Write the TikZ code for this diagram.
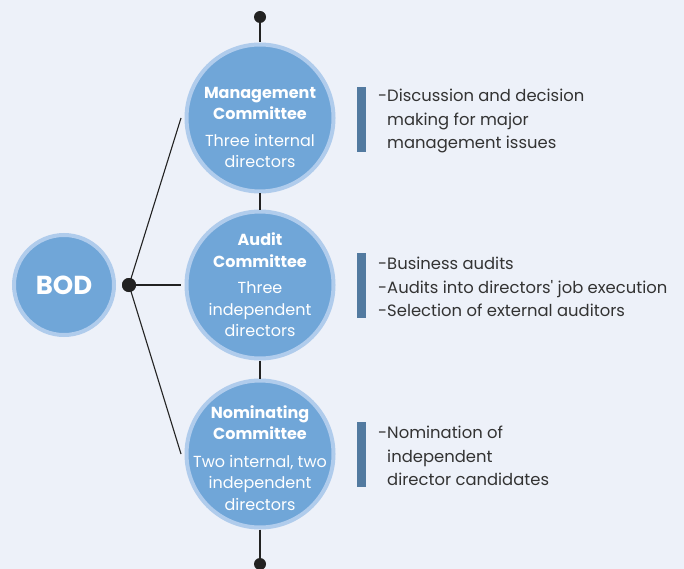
\documentclass[tikz,border=0pt]{standalone}
\usepackage{fontspec}
\setmainfont{Poppins}[Ligatures=TeXOff]
\definecolor{bgc}{RGB}{237,241,249}
\definecolor{cfill}{RGB}{112,166,216}
\definecolor{cring}{RGB}{176,204,236}
\definecolor{barc}{RGB}{82,122,160}
\definecolor{txtc}{RGB}{51,51,51}
\definecolor{linec}{RGB}{34,34,34}
\begin{document}
\begin{tikzpicture}[x=1pt,y=-1pt,
  comm/.style={circle, fill=cfill, draw=cring, line width=4pt, minimum size=147pt, inner sep=0pt},
  ctext/.style={align=center, text=white, inner sep=0pt, font=\fontsize{16}{21.5}\selectfont},
  dot/.style={circle, fill=linec, inner sep=0pt, minimum size=#1},
  bar/.style={fill=barc, inner sep=0pt, minimum width=9pt, minimum height=65pt},
  desc/.style={anchor=west, align=left, text=txtc, inner sep=0pt, font=\fontsize{16.4}{23.5}\selectfont},
  conn/.style={draw=linec, line width=1.1pt}]
\fill[bgc] (0,0) rectangle (684,569);
\useasboundingbox (0,0) rectangle (684,569);

\node[dot=12pt] (top) at (260,17) {};
\node[dot=12pt] (bot) at (260,564) {};
\node[dot=14pt] (junc) at (129,285) {};

\node[comm] (mgmt) at (260,118) {};
\node[comm] (audit) at (260,285) {};
\node[comm] (nom) at (260,454) {};
\node[circle, fill=cfill, draw=cring, line width=4pt, minimum size=100pt, inner sep=0pt,
  text=white, font=\bfseries\fontsize{26}{26}\selectfont] (bod) at (64,285) {BOD};

\draw[conn] (top) -- (mgmt);
\draw[conn] (mgmt) -- (audit);
\draw[conn] (audit) -- (nom);
\draw[conn] (nom) -- (bot);
\draw[conn] (junc.center) -- ([xshift=-3.5pt]mgmt.west);
\draw[conn] (junc.center) -- ([xshift=-4pt]audit.west);
\draw[conn] (junc.center) -- ([xshift=-3.5pt]nom.west);
\node[dot=14pt] (juncdot) at (junc) {};

\node[ctext] (mgmtT) at (260,127.5) {\textbf{Management}\\\textbf{Committee}\\[5pt]Three internal\\directors};
\node[ctext] (auditT) at (260,285) {\textbf{Audit}\\\textbf{Committee}\\[5pt]Three\\independent\\directors};
\node[ctext] (nomT) at (260,458) {\textbf{Nominating}\\\textbf{Committee}\\[6pt]Two internal, two\\independent\\directors};

\node[bar] (b1) at (361.5,119.5) {};
\node[bar] (b2) at (361.5,285) {};
\node[bar] (b3) at (361.5,454.5) {};

\node[desc] (d1) at (378,121) {-Discussion and decision\\\hphantom{-}making for major\\\hphantom{-}management issues};
\node[desc] (d2) at (378,287) {-Business audits\\-Audits into directors' job execution\\-Selection of external auditors};
\node[desc] (d3) at (378,456) {-Nomination of\\\hphantom{-}independent\\\hphantom{-}director candidates};
\end{tikzpicture}
\end{document}
